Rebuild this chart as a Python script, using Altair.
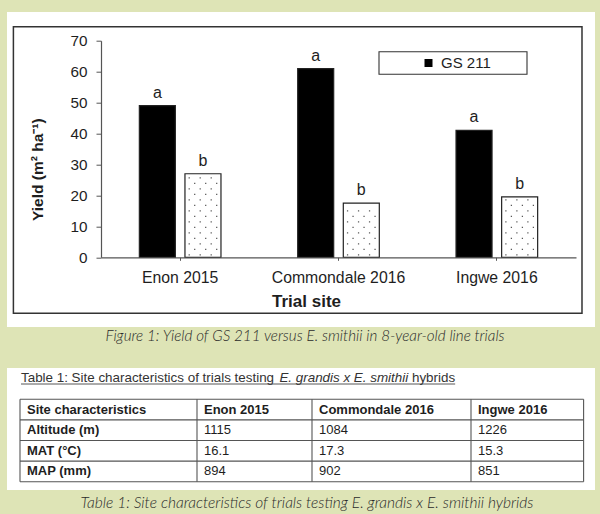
import altair as alt
import pandas as pd

# ---------------- data ----------------
sites = ["Enon 2015", "Commondale 2016", "Ingwe 2016"]
series_names = ["GS 211", "E. smithii"]
gs211_yield = [49, 61, 41]
smithii_yield = [27, 17.5, 19.5]
gs211_letters = ["a", "a", "a"]
smithii_letters = ["b", "b", "b"]
y_ticks = [0, 10, 20, 30, 40, 50, 60, 70]
y_title = "Yield (m² ha⁻¹)"
x_title = "Trial site"

table_title_parts = ["Table 1: Site characteristics of trials testing",
                     "E. grandis x E. smithii", "hybrids"]
table_columns = ["Site characteristics", "Enon 2015", "Commondale 2016", "Ingwe 2016"]
table_rows = ["Altitude (m)", "MAT (°C)", "MAP (mm)"]
altitude_m = ["1115", "1084", "1226"]
mat_c = ["16.1", "17.3", "15.3"]
map_mm = ["894", "902", "851"]

figure_caption = "Figure 1: Yield of GS 211 versus E. smithii in 8-year-old line trials"
table_caption = "Table 1: Site characteristics of trials testing E. grandis x E. smithii hybrids"

# ---------------- layout ----------------
PL, PT, W, H = 101, 40.7, 475, 216.6
PR = 600 - PL - W
PB = 514 - PT - H
FONT = "Liberation Sans"
BEIGE = "#dee4b6"
TXT = "#1e1e1e"
CAP = "#2a2a2a"


def rx(v):
    return v - PL


def ry(v):
    return v - PT


one = pd.DataFrame({"k": [0]})


def rect(x1, y1, x2, y2, fill, stroke=None, sw=1.0):
    kw = dict(fill=fill)
    if stroke:
        kw.update(stroke=stroke, strokeWidth=sw)
    else:
        kw.update(strokeWidth=0)
    return alt.Chart(one).mark_rect(**kw).encode(
        x=alt.value(rx(x1)), x2=alt.value(rx(x2)),
        y=alt.value(ry(y1)), y2=alt.value(ry(y2)))


def label(txt, x, y, size, align="left", baseline="alphabetic", style="normal",
          weight="normal", font=FONT, color=TXT):
    return alt.Chart(pd.DataFrame({"t": [txt]})).mark_text(
        align=align, baseline=baseline, fontSize=size, fontStyle=style,
        fontWeight=weight, font=font, color=color).encode(
        x=alt.value(rx(x)), y=alt.value(ry(y)), text="t:N")


# ---------------- bar chart ----------------
df = pd.DataFrame({
    "site": sites * 2,
    "series": [series_names[0]] * 3 + [series_names[1]] * 3,
    "value": gs211_yield + smithii_yield,
    "letter": gs211_letters + smithii_letters,
})

x_axis = alt.Axis(labelAngle=0, tickSize=3, labelPadding=10, domainColor="#555",
                  tickColor="#555", domainWidth=1.2, labelFont=FONT, labelFontSize=15.8,
                  labelColor=TXT, titleFont=FONT, titleFontSize=17, titleFontWeight="bold",
                  titleColor=TXT, titleX=rx(306), titleY=49, titleAlign="center",
                  titleBaseline="alphabetic", zindex=2)
y_axis = alt.Axis(values=y_ticks, tickSize=5, labelPadding=9, grid=False,
                  domainColor="#555", tickColor="#555", domainWidth=1.2,
                  labelFont=FONT, labelFontSize=15.3, labelColor=TXT,
                  titleFont=FONT, titleFontSize=15.5, titleFontWeight="bold",
                  titleColor=TXT, titleX=-64, titleY=128.5, titleAlign="center",
                  titleBaseline="middle", zindex=2)

X = alt.X("site:N", sort=sites, title=x_title,
          scale=alt.Scale(domain=sites, paddingInner=0.4845, paddingOuter=0.2422),
          axis=x_axis)
XO = alt.XOffset("series:N", sort=series_names,
                 scale=alt.Scale(domain=series_names, paddingInner=0.2105, paddingOuter=0))
yscale = alt.Scale(domain=[0, 70], nice=False)

bars = alt.Chart(df).mark_bar(stroke="#222", strokeWidth=1.2).encode(
    x=X, xOffset=XO,
    y=alt.Y("value:Q", scale=yscale, axis=y_axis, title=y_title),
    fill=alt.Fill("series:N", scale=alt.Scale(domain=series_names, range=["#000000", "#ffffff"]),
                  legend=alt.Legend(orient="none", legendX=rx(421), legendY=ry(55.5),
                                    title=None, values=[series_names[0]],
                                    symbolType="square", symbolSize=64,
                                    symbolStrokeWidth=0, labelFont=FONT,
                                    labelFontSize=15, labelColor=TXT,
                                    labelOffset=5, padding=0)),
)


def dot_row_path(offsets, s=1.25):
    h = s / 2
    return " ".join(f"M{o - h:.2f},{-h:.2f}h{s}v{s}h{-s}Z" for o in offsets)


dots_base = (alt.Chart(df)
             .transform_filter(alt.datum.series == series_names[1])
             .transform_calculate(row="sequence(0.75, datum.value - 0.8, 1.78)")
             .transform_flatten(["row"])
             .transform_calculate(parity="round((datum.row - 0.75) / 1.78) % 2"))
dot_layers = []
for par, offs in [(0, [-13.75, -2.75, 8.25]), (1, [-8.25, 2.75, 13.75])]:
    dot_layers.append(
        dots_base.transform_filter(f"datum.parity == {par}")
        .mark_point(shape=dot_row_path(offs), size=4, filled=True, color="#3c3c3c",
                    opacity=0.85, strokeWidth=0)
        .encode(x=X, xOffset=XO,
                y=alt.Y("row:Q", scale=yscale, axis=y_axis, title=y_title)))

letters = alt.Chart(df).mark_text(dy=-8, baseline="alphabetic", fontSize=16,
                                  font=FONT, color=TXT).encode(
    x=X, xOffset=XO,
    y=alt.Y("value:Q", scale=yscale, axis=y_axis, title=y_title),
    text="letter:N")

plot = alt.layer(bars, *dot_layers, letters)

# ---------------- table ----------------
TFS = 13
tx = alt.Scale(domain=[0, 1, 2, 3, 4], range=[rx(20), rx(197), rx(312), rx(471), rx(583.6)],
               nice=False, zero=False)
ty = alt.Scale(domain=[0, 4], range=[ry(399.3), ry(481.7)], nice=False, zero=False)

ncol = len(table_columns)
nrow = len(table_rows) + 1
hl = pd.DataFrame({"r": list(range(nrow + 1)), "c0": 0, "c1": ncol})
vl = pd.DataFrame({"c": list(range(ncol + 1)), "r0": 0, "r1": nrow})

cells = []
for c, h in enumerate(table_columns):
    cells.append({"col": c, "row": 0, "text": h, "bold": 1})
for r, (lab, vals) in enumerate(zip(table_rows, [altitude_m, mat_c, map_mm]), start=1):
    cells.append({"col": 0, "row": r, "text": lab, "bold": 1})
    for c, v in enumerate(vals, start=1):
        cells.append({"col": c, "row": r, "text": v, "bold": 0})
cells = pd.DataFrame(cells)

h_lines = alt.Chart(hl).mark_rule(color="#555", strokeWidth=1.1).encode(
    y=alt.Y("r:Q", scale=ty, axis=None),
    x=alt.X("c0:Q", scale=tx, axis=None), x2="c1:Q")
v_lines = alt.Chart(vl).mark_rule(color="#555", strokeWidth=1.1).encode(
    x=alt.X("c:Q", scale=tx, axis=None),
    y=alt.Y("r0:Q", scale=ty, axis=None), y2="r1:Q")


def cell_text(bold):
    return (alt.Chart(cells)
            .transform_filter(f"datum.bold == {bold}")
            .transform_calculate(rc="datum.row + 0.5")
            .mark_text(align="left", baseline="middle", dx=7, fontSize=TFS, font=FONT,
                       color=TXT, fontWeight="bold" if bold else "normal")
            .encode(x=alt.X("col:Q", scale=tx, axis=None),
                    y=alt.Y("rc:Q", scale=ty, axis=None),
                    text="text:N"))


table = alt.layer(h_lines, v_lines, cell_text(1), cell_text(0))

# ---------------- decorations ----------------
TT = 13.4
sp = 0.278 * TT
w1 = 19.007 * TT + sp
w2 = 9.614 * TT + sp
w3 = 3.223 * TT
tstart = 21
tbase = 382

layers = [
    rect(7, 12, 595, 327, "#ffffff"),
    rect(13.4, 26.7, 582, 313.3, "#ffffff", "#333333", 1.5),
    rect(7, 368, 595, 490, "#ffffff"),
    rect(379, 51.7, 527, 74.3, "#ffffff", "#333333", 1.1),
    plot,
    table,
    label(table_title_parts[0], tstart, tbase, TT, color="#333"),
    label(table_title_parts[1], tstart + w1, tbase, TT, style="italic", color="#333"),
    label(table_title_parts[2], tstart + w1 + w2, tbase, TT, color="#333"),
    alt.Chart(one).mark_rule(color="#444", strokeWidth=0.9).encode(
        x=alt.value(rx(tstart)), x2=alt.value(rx(tstart + w1 + w2 + w3)),
        y=alt.value(ry(tbase + 2))),
    label(figure_caption, 305, 336, 15.2, align="center", baseline="middle",
          style="italic", weight=300, font="Lato", color=CAP),
    label(table_caption, 307, 503, 15.5, align="center", baseline="middle",
          style="italic", weight=300, font="Lato", color=CAP),
]

chart = (alt.layer(*layers)
         .resolve_scale(x="independent", y="independent")
         .properties(width=W, height=H, background=BEIGE,
                     padding={"left": PL, "top": PT, "right": PR, "bottom": PB},
                     autosize=alt.AutoSizeParams(type="none"))
         .configure_view(stroke=None))

chart.save("out.html", embed_options={"renderer": "svg", "actions": False})
